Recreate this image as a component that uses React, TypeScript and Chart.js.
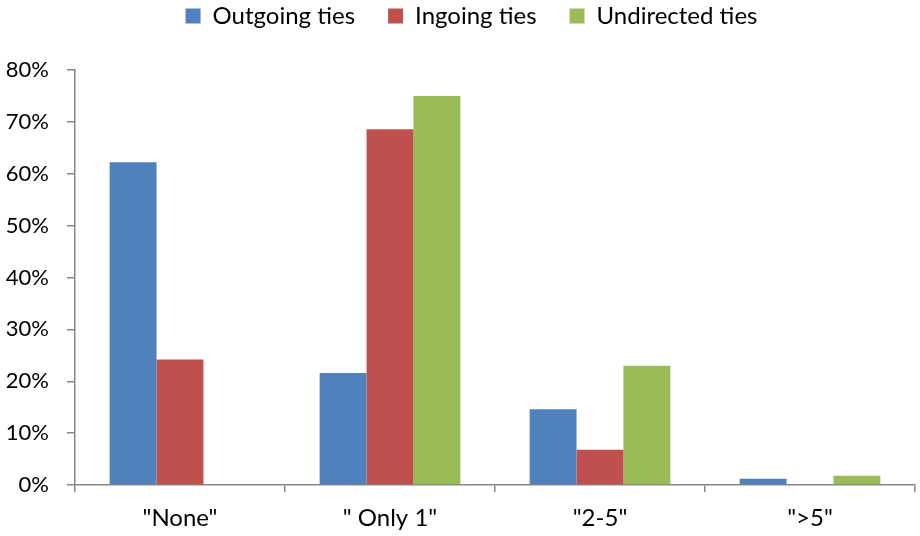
import React, { useEffect, useRef } from "react";
import { Chart, registerables } from "chart.js";

Chart.register(...registerables);

const categories = ['"None"', '" Only 1"', '"2-5"', '">5"'];
const outgoing = [0.622, 0.216, 0.146, 0.012];
const ingoing = [0.242, 0.686, 0.068, 0];
const undirected = [0, 0.75, 0.23, 0.018];
const seriesNames = ["Outgoing ties", "Ingoing ties", "Undirected ties"];
const colors = ["#4F81BD", "#C0504D", "#9BBB59"];

const FONT = "Lato, 'Open Sans', sans-serif";

export default function App() {
  const ref = useRef<HTMLCanvasElement>(null);
  useEffect(() => {
    if (!ref.current) return;
    const legendSpacer = {
      id: "legendSpacer",
      beforeInit(chart: any) {
        const lg = chart.legend;
        if (!lg) return;
        const origFit = lg.fit;
        lg.fit = function () {
          origFit.call(this);
          this.height = 70;
        };
        const origDraw = lg.draw;
        lg.draw = function () {
          const ctx = this.ctx;
          ctx.save();
          ctx.translate(14, -29);
          origDraw.call(this);
          ctx.restore();
        };
      },
    };
    const chart = new Chart(ref.current, {
      type: "bar",
      data: {
        labels: categories,
        datasets: [outgoing, ingoing, undirected].map((d, i) => ({
          label: seriesNames[i],
          data: d,
          backgroundColor: colors[i],
          borderWidth: 0,
          categoryPercentage: 0.67,
          barPercentage: 1,
        })),
      },
      plugins: [legendSpacer],
      options: {
        responsive: false,
        animation: false,
        layout: { padding: { left: 0, right: 5, top: 0, bottom: 0 } },
        plugins: {
          tooltip: { enabled: false },
          legend: {
            position: "top",
            labels: {
              boxWidth: 15,
              boxHeight: 15,
              padding: 33,
              color: "#000",
              font: { family: FONT, size: 24 },
            },
          },
        },
        scales: {
          x: {
            grid: {
              display: true,
              drawOnChartArea: false,
              drawTicks: true,
              tickLength: 7,
              color: "#868686",
              lineWidth: 1.5,
            },
            border: { display: true, color: "#868686", width: 1.5 },
            ticks: { color: "#000", padding: 12, font: { family: FONT, size: 24 } },
            afterFit(scale: any) {
              scale.height = 51;
            },
          },
          y: {
            min: 0,
            max: 0.8,
            grid: {
              display: true,
              drawOnChartArea: false,
              drawTicks: true,
              tickLength: 8,
              color: "#868686",
              lineWidth: 1.5,
            },
            border: { display: true, color: "#868686", width: 1.5 },
            ticks: {
              stepSize: 0.1,
              color: "#000",
              padding: 18,
              font: { family: FONT, size: 22 },
              callback: (v: any) => Math.round(Number(v) * 100) + "%",
            },
            afterFit(scale: any) {
              scale.width = 75;
            },
          },
        },
      },
    });
    return () => chart.destroy();
  }, []);
  return (
    <div style={{ position: "fixed", left: 0, top: 0, width: 920, height: 536, background: "#fff" }}>
      <canvas ref={ref} width={920} height={536} />
    </div>
  );
}
